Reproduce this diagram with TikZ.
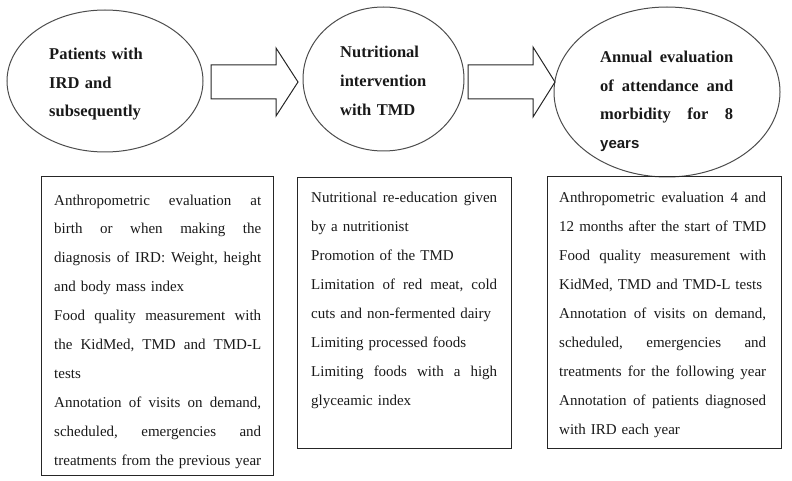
\documentclass[tikz,border=0pt]{standalone}
\usepackage{fontspec}
\setmainfont{Liberation Serif}
\setsansfont{Liberation Sans}
\usetikzlibrary{shapes.geometric}

\newcommand\myjust[1]{\makebox[\hsize][s]{\frenchspacing\spaceskip=0.25em plus 1fil\relax\xspaceskip=\spaceskip #1}}
\newcommand\mynat[1]{\makebox[\hsize][l]{#1}}

\tikzset{
  oval/.style={ellipse, draw=black!70, line width=1pt, inner sep=0pt},
  infobox/.style={rectangle, draw=black!85, line width=1pt, inner sep=0pt, anchor=north west},
  boxtext/.style={anchor=base west, inner sep=0pt, text width=#1, align=left,
    font=\fontsize{15}{28.9}\selectfont, text=black!90},
  ovaltext/.style={anchor=base west, inner sep=0pt, text width=#1, align=left,
    font=\fontsize{16.5}{28.6}\selectfont\bfseries, text=black!90},
  blockarrow/.style={draw=black!85, line width=1pt, line join=miter},
}

\begin{document}
\begin{tikzpicture}[x=1pt, y=-1pt]
\useasboundingbox (0,0) rectangle (792,481);

% ovals
\node[oval, minimum width=196pt, minimum height=142pt] (e1) at (105,81) {};
\node[oval, minimum width=161pt, minimum height=144pt] (e2) at (383.5,79) {};
\node[oval, minimum width=226pt, minimum height=170pt] (e3) at (667,92) {};

% block arrows
\draw[blockarrow] (211,65) -- (276,65) -- (276,48) -- (298,82) -- (276,116) -- (276,99) -- (211,99) -- cycle;
\draw[blockarrow] (468,65) -- (533,65) -- (533,47) -- (555,82) -- (533,117) -- (533,99) -- (468,99) -- cycle;

% oval texts
\node[ovaltext=100pt] (l1) at (49,59.5) {\mynat{Patients with}\\\mynat{IRD and}\\\mynat{subsequently}};
\node[ovaltext=100pt] (l2) at (340,58) {\mynat{Nutritional}\\\mynat{intervention}\\\mynat{with TMD}};
\node[ovaltext=133pt] (l3) at (600,62.5) {\myjust{Annual evaluation}\\\myjust{of attendance and}\\\myjust{morbidity for 8}\\{\sffamily\fontsize{15}{28.6}\selectfont years}};

% boxes
\node[infobox, minimum width=232pt, minimum height=299pt] (b1) at (41,176) {};
\node[infobox, minimum width=214pt, minimum height=271pt] (b2) at (297,177) {};
\node[infobox, minimum width=234pt, minimum height=272pt] (b3) at (547,176) {};

\node[boxtext=207pt] (t1) at (54,205) {%
\myjust{Anthropometric evaluation at}\\
\myjust{birth or when making the}\\
\myjust{diagnosis of IRD: Weight, height}\\
\mynat{and body mass index}\\
\myjust{Food quality measurement with}\\
\myjust{the KidMed, TMD and TMD-L}\\
\mynat{tests}\\
\myjust{Annotation of visits on demand,}\\
\myjust{scheduled, emergencies and}\\
\myjust{treatments from the previous year}};

\node[boxtext=186pt] (t2) at (311,203) {%
\myjust{Nutritional re-education given}\\
\mynat{by a nutritionist}\\
\mynat{Promotion of the TMD}\\
\myjust{Limitation of red meat, cold}\\
\mynat{cuts and non-fermented dairy}\\
\mynat{Limiting processed foods}\\
\myjust{Limiting foods with a high}\\
\mynat{glyceamic index}};

\node[boxtext=207pt] (t3) at (559,203) {%
\myjust{Anthropometric evaluation 4 and}\\
\myjust{12 months after the start of TMD}\\
\myjust{Food quality measurement with}\\
\mynat{KidMed, TMD and TMD-L tests}\\
\myjust{Annotation of visits on demand,}\\
\myjust{scheduled, emergencies and}\\
\myjust{treatments for the following year}\\
\myjust{Annotation of patients diagnosed}\\
\mynat{with IRD each year}};
\end{tikzpicture}
\end{document}
